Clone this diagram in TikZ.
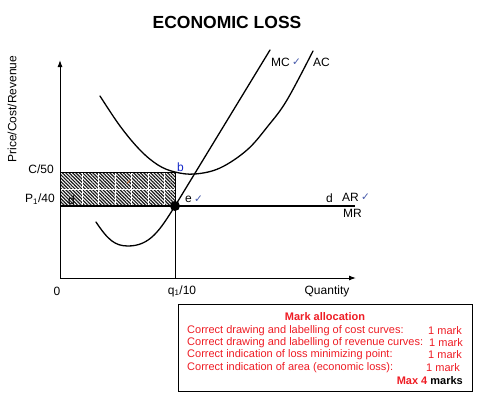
\documentclass[tikz,border=0pt]{standalone}
\usepackage{fontspec}
\setmainfont{Liberation Sans}
\newfontfamily\symfont{DejaVu Sans}
\usetikzlibrary{patterns.meta,arrows.meta}
\definecolor{markred}{RGB}{238,28,36}
\definecolor{tickblue}{RGB}{70,90,170}
\definecolor{lblblue}{RGB}{20,40,200}
\definecolor{tickorange}{RGB}{225,110,40}
\begin{document}
\begin{tikzpicture}[x=1pt,y=-1pt,
  lbl/.style={font=\fontsize{12}{14}\selectfont, inner sep=0pt},
  marktxt/.style={font=\fontsize{11}{13}\selectfont, inner sep=0pt, text=markred},
  curve/.style={line width=1.3pt, line cap=round},
  axis/.style={line width=1pt},
  tick/.style={font=\symfont\fontsize{10.5}{11}\selectfont, text=tickblue, inner sep=0pt},
  arrowtip/.style={-{Latex[length=7pt,width=5pt]}}]
\useasboundingbox (0,0) rectangle (480,399);

% title
\node[font=\bfseries\fontsize{17.5}{20}\selectfont, inner sep=0pt] (title) at (227,22) {ECONOMIC LOSS};

% key points
\coordinate (O) at (60,278);
\coordinate (ytop) at (60,60);
\coordinate (xend) at (356,278);
\coordinate (C) at (60,172);
\coordinate (B) at (175,172);
\coordinate (D) at (60,206);
\coordinate (Ept) at (175,206);
\coordinate (Q) at (175,278);
\coordinate (ARend) at (355,206);

% loss rectangle
\fill[pattern={Lines[angle=-45,distance=2.4pt,line width=1.2pt]}, pattern color=black!90] (C) rectangle (Ept);
\foreach \xx in {82,98.5,115,131.5,148,164.5}
  \draw[white, line width=0.7pt] (\xx,172.5) -- (\xx,205.5);
\draw[white, line width=0.7pt] (60.5,189) -- (174.5,189);
\draw[line width=0.8pt] (C) rectangle (Ept);
\node[font=\symfont\fontsize{7}{8}\selectfont, text=tickorange, inner sep=0pt] (areatick) at (129,182) {✓};

% axes
\draw[axis, arrowtip] (O) -- (ytop);
\draw[axis, arrowtip] (O) -- (xend);
\draw[axis] (Ept) -- (Q);
\draw[line width=1.2pt] (D) -- (ARend);

% AC curve
\coordinate (acS) at (100,96);
\coordinate (acTop) at (313,51);
\draw[curve] plot[smooth, tension=0.6] coordinates {(100,96) (120,126) (140,150) (158,165) (175,172) (195,174) (220,168) (247,150) (268,126) (287,100) (313,51)};

% MC curve
\coordinate (mcS) at (96,222);
\coordinate (mcMin) at (128,246);
\coordinate (mcTop) at (270,50);
\draw[curve] (mcS) .. controls (108,240) and (115,246) .. (mcMin) .. controls (150,246) and (160,230) .. (Ept) -- (mcTop);

\node[circle, fill=black, inner sep=0pt, minimum size=10pt] (E) at (Ept) {};

% labels
\node[lbl, rotate=90] (ylab) at (12,109) {Price/Cost/Revenue};
\node[lbl, anchor=east] (c50) at (54,169) {C/50};
\node[lbl, anchor=east] (p40) at (55,199) {P\textsubscript{1}/40};
\node[lbl] (zero) at (57,291) {0};
\node[lbl] (q10) at (182,291) {q\textsubscript{1}/10};
\node[lbl] (qty) at (327,291) {Quantity};
\node[lbl, anchor=west] (dl) at (68,200) {d};
\node[lbl, anchor=west, text=lblblue] (bl) at (177,167) {b};
\node[lbl, anchor=west] (el) at (185,199) {e};
\node[tick, anchor=west] (etick) at (el.east) {\,✓};
\node[lbl, anchor=west] (dr) at (326,198) {d};
\node[lbl, anchor=west] (ar) at (342,197) {AR};
\node[tick, anchor=west] (artick) at (ar.east) {\,✓};
\node[lbl, anchor=west] (mr) at (343,213) {MR};
\node[lbl, anchor=west] (mc) at (271,62) {MC};
\node[tick, anchor=west] (mctick) at (mc.east) {\,✓};
\node[lbl, anchor=west] (ac) at (313,62) {AC};

% mark allocation box
\draw[line width=1pt] (178,304) rectangle (472,391);
\node[marktxt, font=\bfseries\fontsize{11}{13}\selectfont] (mh) at (325,317) {Mark allocation};
\node[marktxt, anchor=west] (m1) at (187,330.5) {Correct drawing and labelling of cost curves:};
\node[marktxt, anchor=west] (m2) at (187,342.5) {Correct drawing and labelling of revenue curves:};
\node[marktxt, anchor=west] (m3) at (187,355) {Correct indication of loss minimizing point:};
\node[marktxt, anchor=west] (m4) at (187,368) {Correct indication of area (economic loss):};
\node[marktxt, anchor=west] (n1) at (428,330.5) {1 mark};
\node[marktxt, anchor=west] (n2) at (429,342.5) {1 mark};
\node[marktxt, anchor=west] (n3) at (428,355) {1 mark};
\node[marktxt, anchor=west] (n4) at (426,368) {1 mark};
\node[inner sep=0pt, anchor=east, font=\bfseries\fontsize{11}{13}\selectfont] (mx) at (463,381) {\textcolor{markred}{Max 4} marks};
\end{tikzpicture}
\end{document}
